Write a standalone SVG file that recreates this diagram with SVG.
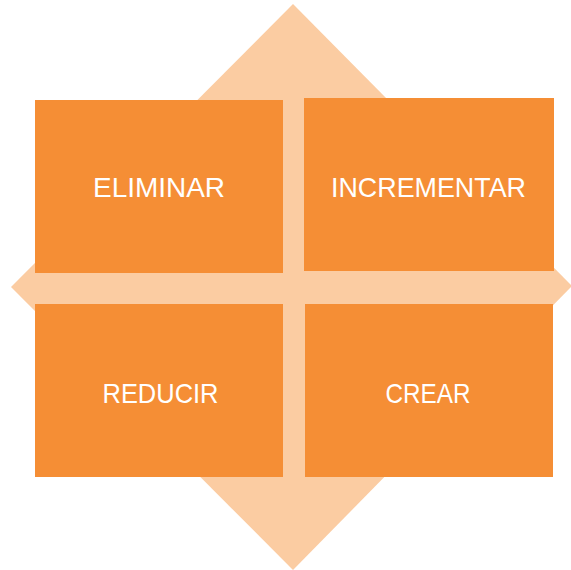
<svg xmlns="http://www.w3.org/2000/svg" width="571" height="570" viewBox="0 0 571 570">
  <style>
    .box { fill: #F58E35; }
    .label { fill: #FFFFFF; font-family: "Liberation Sans", Arial, sans-serif; font-size: 28px; text-anchor: middle; }
  </style>
  <rect width="571" height="570" fill="#FFFFFF"/>
  <!-- background diamond -->
  <g id="diamond">
    <polygon points="293,4 572,286 293,570 11,287" fill="#FBCCA2"/>
  </g>
  <g id="eliminar">
    <rect class="box" x="35" y="100" width="248" height="173"/>
    <text class="label" x="159" y="197" textLength="132" lengthAdjust="spacingAndGlyphs">ELIMINAR</text>
  </g>
  <g id="incrementar">
    <rect class="box" x="304" y="98" width="250" height="173"/>
    <text class="label" x="428.5" y="197" textLength="195" lengthAdjust="spacingAndGlyphs">INCREMENTAR</text>
  </g>
  <g id="reducir">
    <rect class="box" x="35" y="304" width="248" height="173"/>
    <text class="label" x="160.5" y="403" textLength="116" lengthAdjust="spacingAndGlyphs">REDUCIR</text>
  </g>
  <g id="crear">
    <rect class="box" x="305" y="304" width="248" height="173"/>
    <text class="label" x="428" y="403" textLength="85" lengthAdjust="spacingAndGlyphs">CREAR</text>
  </g>
  <g id="connectors"/>
</svg>
